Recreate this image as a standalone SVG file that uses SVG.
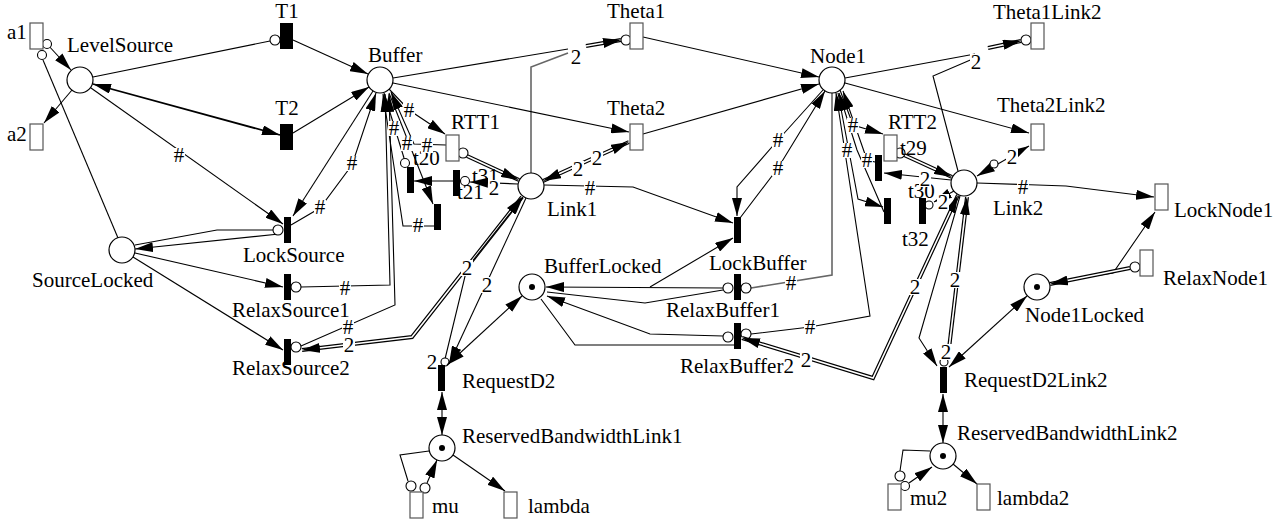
<svg xmlns="http://www.w3.org/2000/svg" width="1286" height="524" viewBox="0 0 1286 524" font-family="'Liberation Serif', 'Times New Roman', 'DejaVu Serif', serif" font-size="21">
<defs>
<marker id="ah" markerUnits="userSpaceOnUse" markerWidth="18" markerHeight="10" refX="18" refY="5" orient="auto-start-reverse" viewBox="0 0 18 10">
<path d="M0,0 L18,5 L0,10 Z" fill="#000"/>
</marker>
</defs>
<style>
.p{fill:#fff;stroke:#000;stroke-width:1.2}
.tok{fill:#000}
.tt{fill:#fff;stroke:#555;stroke-width:1.2}
.it{fill:#000}
.a{fill:none;stroke:#000;stroke-width:1.1}
.g{fill:none;stroke:#666;stroke-width:1.6}
.d{fill:none;stroke:#000;stroke-width:4}
.di{fill:none;stroke:#fff;stroke-width:1.6}
.n{fill:none;stroke:none}
.e{marker-end:url(#ah)}
.s{marker-start:url(#ah)}
.ic{fill:#fff;stroke:#000;stroke-width:1.1}
.lb rect{fill:#fff}
text{font-family:'Liberation Serif','Times New Roman','DejaVu Serif',serif;font-size:21px;fill:#000}
.m{text-anchor:middle}
</style>
<rect width="1286" height="524" fill="#fff"/>

<!-- arcs -->
<g id="connectors">
  <!-- source side -->
  <path class="a e" d="M47,44 L71,70"/>
  <circle class="ic" cx="47" cy="44" r="4.5"/>
  <path class="a" d="M118,238 L43,60"/>
  <circle class="ic" cx="42" cy="55" r="4.5"/>
  <path class="a e" d="M72,90 L44,123"/>
  <path class="a" d="M93,77 L270,41"/>
  <circle class="ic" cx="275" cy="40" r="5"/>
  <path class="a e s" style="stroke-width:1.8" d="M93,84 L280,135"/>
  <path class="a e" d="M91,88 L283,224"/>
  <path class="a e" d="M293,40 L368,74"/>
  <path class="a e" d="M293,133 L369,87"/>
  <path class="a e" d="M279,234 L135,249"/>
  <path class="a" d="M135,245 L217,230 L273,230"/>
  <circle class="ic" cx="278" cy="230" r="5"/>
  <path class="a e" d="M135,253 L283,287"/>
  <path class="a e" d="M133,257 L283,350"/>
  <path class="a e" d="M373,91 L293,216"/>
  <path class="a e" d="M291,225 L320,208 L352,165 L376,93"/>
  <path class="a e" d="M301,287 L390,285 L385,94"/>
  <circle class="ic" cx="296" cy="287" r="5"/>
  <path class="a e" d="M301,346 L395,305 L389,94"/>
  <circle class="ic" cx="296" cy="347" r="5"/>
  <path class="d" d="M302,350 L412,337 L522,197"/>
  <path class="di" d="M302,350 L412,337 L522,197"/>
  <path class="n e s" d="M302,350 L412,337 L522,197"/>

  <!-- buffer side -->
  <path class="a" d="M393,78 L568,49"/>
  <path class="g" d="M531,173 L531,67 L568,53"/>
  <path class="d" d="M586,46 L621,40"/>
  <path class="di" d="M586,46 L621,40"/>
  <path class="n e" d="M586,46 L621,40"/>
  <circle class="ic" cx="626" cy="40" r="5"/>
  <path class="a e" d="M393,83 L629,132"/>
  <path class="d" d="M543,181 L629,142"/>
  <path class="di" d="M543,181 L629,142"/>
  <path class="n e s" d="M543,181 L629,142"/>
  <path class="a e" d="M389,89 L409,110 L445,134"/>
  <path class="d" d="M467,156 L519,180"/>
  <path class="di" d="M467,156 L519,180"/>
  <path class="n e" d="M467,156 L519,180"/>
  <circle class="ic" cx="463" cy="153" r="5"/>
  <path class="a e" d="M643,37 L819,77"/>
  <path class="a e" d="M643,134 L819,84"/>
  <path class="a e" d="M544,185 L633,187 L733,223"/>
  <path class="a e" d="M723,288 L546,287"/>
  <path class="a e" d="M650,287 L733,238"/>
  <path class="a" d="M547,292 L645,303 L723,290"/>
  <circle class="ic" cx="728" cy="288" r="5"/>
  <path class="a e" d="M723,336 L650,334 L547,296"/>
  <path class="a" d="M541,299 L575,345 L734,345"/>
  <circle class="ic" cx="728" cy="337" r="5"/>

  <!-- link1 transitions -->
  <path class="a" d="M384,93 L404,158"/>
  <circle class="ic" cx="405" cy="163" r="4.5"/>
  <path class="a e" d="M389,93 L433,204"/>
  <path class="a e" d="M434,226 L403,226 L383,94"/>
  <path class="a e" d="M446,145 L414,144 L391,92"/>
  <path class="a e" d="M518,184 L470,182"/>
  <path class="a e" d="M453,181 L414,181"/>
  <circle class="ic" cx="465" cy="181" r="4.5"/>

  <!-- link1 to request -->
  <path class="a e" d="M526,198 L449,364"/>
  <path class="a e" d="M445,359 L467,268 L523,197"/>
  <circle class="ic" cx="445" cy="362" r="4"/>
  <path class="a e s" d="M522,296 L447,365"/>
  <path class="a e s" d="M442,392 L442,435"/>
  <path class="a e" d="M453,455 L505,491"/>
  <path class="a e" d="M427,483 L437,460"/>
  <circle class="ic" cx="425" cy="488" r="5"/>
  <path class="a" d="M429,451 L400,455 L408,481"/>
  <circle class="ic" cx="411" cy="486" r="5"/>

  <!-- node1 side -->
  <path class="a" d="M845,78 L975,54"/>
  <path class="a" d="M958,171 L933,76 L975,58"/>
  <path class="d" d="M988,48 L1021,41"/>
  <path class="di" d="M988,48 L1021,41"/>
  <path class="n e" d="M988,48 L1021,41"/>
  <circle class="ic" cx="1026" cy="40" r="5"/>
  <path class="a e" d="M845,83 L1029,133"/>
  <path class="a e s" d="M977,176 L1029,146"/>
  <circle class="ic" cx="994" cy="164" r="4"/>
  <path class="a e" d="M823,90 L778,140 L737,187 L737,216"/>
  <path class="a e" d="M740,218 L778,168 L825,91"/>
  <path class="g" d="M832,93 L832,275 L751,288"/>
  <circle class="ic" cx="746" cy="288" r="5"/>
  <path class="a e" d="M751,334 L810,327 L870,316 L836,93"/>
  <circle class="ic" cx="746" cy="334" r="5"/>
  <path class="a e" d="M840,90 L853,125 L883,134"/>
  <path class="d" d="M904,155 L952,177"/>
  <path class="di" d="M904,155 L952,177"/>
  <path class="n e" d="M904,155 L952,177"/>
  <circle class="ic" cx="900" cy="153" r="5"/>
  <path class="a e" d="M951,180 L884,173"/>
  <path class="a e" d="M954,191 L934,202"/>
  <circle class="ic" cx="929" cy="205" r="4"/>
  <path class="a e" d="M838,93 L858,199 L883,207"/>
  <path class="a e" d="M875,162 L867,160 L843,91"/>
  <path class="a e" d="M884,212 L857,150 L839,93"/>

  <!-- link2 side -->
  <path class="a e" d="M977,183 L1066,186 L1154,197"/>
  <path class="a e" d="M1049,283 L1113,273 L1155,212"/>
  <path class="d" d="M1130,268 L1050,284"/>
  <path class="di" d="M1130,268 L1050,284"/>
  <path class="n e" d="M1130,268 L1050,284"/>
  <circle class="ic" cx="1135" cy="267" r="5"/>
  <path class="a e s" d="M1027,296 L949,367"/>
  <path class="d" d="M967,197 L948,357"/>
  <path class="di" d="M967,197 L948,357"/>
  <path class="n s" d="M967,197 L948,357"/>
  <circle class="ic" cx="944" cy="362" r="4"/>
  <path class="a e" d="M960,196 L919,338 L937,366"/>
  <path class="d" d="M742,338 L873,378 L958,195"/>
  <path class="di" d="M742,338 L873,378 L958,195"/>
  <path class="n e s" d="M742,338 L873,378 L958,195"/>
  <path class="a e s" d="M943,394 L943,443"/>
  <path class="a e" d="M953,464 L977,484"/>
  <path class="a e" d="M909,483 L932,467"/>
  <circle class="ic" cx="905" cy="486" r="4.5"/>
  <path class="a" d="M930,451 L903,450 L900,471"/>
  <circle class="ic" cx="900" cy="476" r="5"/>
</g>

<!-- places -->
<g id="LevelSource"><circle class="p" cx="80" cy="80" r="13"/><text x="67" y="52">LevelSource</text></g>
<g id="Buffer"><circle class="p" cx="380" cy="80" r="13"/><text x="368" y="62">Buffer</text></g>
<g id="Node1"><circle class="p" cx="832" cy="80" r="13"/><text x="810" y="63">Node1</text></g>
<g id="Link1"><circle class="p" cx="531" cy="186" r="13"/><text x="547" y="216">Link1</text></g>
<g id="Link2"><circle class="p" cx="964" cy="183" r="13"/><text x="993" y="215">Link2</text></g>
<g id="SourceLocked"><circle class="p" cx="122" cy="250" r="13"/><text x="32" y="287">SourceLocked</text></g>
<g id="BufferLocked"><circle class="p" cx="532" cy="287" r="13"/><circle class="tok" cx="532" cy="287" r="3"/><text x="544" y="273">BufferLocked</text></g>
<g id="Node1Locked"><circle class="p" cx="1037" cy="287" r="13"/><circle class="tok" cx="1037" cy="287" r="3"/><text x="1025" y="322">Node1Locked</text></g>
<g id="ReservedBandwidthLink1"><circle class="p" cx="442" cy="448" r="13"/><circle class="tok" cx="442" cy="448" r="3"/><text x="462" y="443">ReservedBandwidthLink1</text></g>
<g id="ReservedBandwidthLink2"><circle class="p" cx="943" cy="456" r="13"/><circle class="tok" cx="943" cy="456" r="3"/><text x="957" y="440">ReservedBandwidthLink2</text></g>

<!-- timed transitions -->
<g id="a1"><rect class="tt" x="30" y="23" width="13" height="26"/><text x="7" y="39">a1</text></g>
<g id="a2"><rect class="tt" x="30" y="124" width="13" height="26"/><text x="7" y="141">a2</text></g>
<g id="Theta1"><rect class="tt" x="630" y="23" width="13" height="26"/><text x="607" y="18">Theta1</text></g>
<g id="Theta2"><rect class="tt" x="630" y="124" width="13" height="26"/><text x="607" y="115">Theta2</text></g>
<g id="RTT1"><rect class="tt" x="446" y="135" width="13" height="26"/><text x="451" y="129">RTT1</text></g>
<g id="Theta1Link2"><rect class="tt" x="1031" y="23" width="13" height="26"/><text x="993" y="19">Theta1Link2</text></g>
<g id="Theta2Link2"><rect class="tt" x="1031" y="124" width="13" height="26"/><text x="997" y="112">Theta2Link2</text></g>
<g id="RTT2"><rect class="tt" x="884" y="135" width="13" height="26"/><text x="888" y="129">RTT2</text></g>
<g id="LockNode1"><rect class="tt" x="1155" y="184" width="13" height="26"/><text x="1174" y="217">LockNode1</text></g>
<g id="RelaxNode1"><rect class="tt" x="1140" y="250" width="13" height="26"/><text x="1163" y="285">RelaxNode1</text></g>
<g id="mu"><rect class="tt" x="410" y="492" width="13" height="26"/><text x="432" y="513">mu</text></g>
<g id="lambda"><rect class="tt" x="504" y="492" width="13" height="26"/><text x="528" y="513">lambda</text></g>
<g id="mu2"><rect class="tt" x="888" y="484" width="13" height="26"/><text x="910" y="505">mu2</text></g>
<g id="lambda2"><rect class="tt" x="977" y="484" width="13" height="26"/><text x="997" y="505">lambda2</text></g>

<!-- immediate transitions -->
<g id="T1"><rect class="it" x="280" y="23" width="13" height="26"/><text class="m" x="287" y="18">T1</text></g>
<g id="T2"><rect class="it" x="280" y="124" width="13" height="26"/><text class="m" x="287" y="115">T2</text></g>
<g id="LockSource"><rect class="it" x="284" y="217" width="7" height="26"/><text x="243" y="262">LockSource</text></g>
<g id="RelaxSource1"><rect class="it" x="284" y="274" width="7" height="26"/><text x="232" y="317">RelaxSource1</text></g>
<g id="RelaxSource2"><rect class="it" x="284" y="339" width="7" height="26"/><text x="232" y="375">RelaxSource2</text></g>
<g id="t20"><rect class="it" x="407" y="167" width="7" height="26"/><text x="413" y="165">t20</text></g>
<g id="t21"><rect class="it" x="453" y="170" width="7" height="26"/><text x="472" y="183">t31</text><text x="457" y="199">t21</text></g>
<g id="t22"><rect class="it" x="434" y="204" width="7" height="26"/></g>
<g id="LockBuffer"><rect class="it" x="734" y="217" width="7" height="26"/><text x="709" y="270">LockBuffer</text></g>
<g id="RelaxBuffer1"><rect class="it" x="734" y="274" width="7" height="26"/><text x="666" y="317">RelaxBuffer1</text></g>
<g id="RelaxBuffer2"><rect class="it" x="734" y="323" width="7" height="26"/><text x="680" y="373">RelaxBuffer2</text></g>
<g id="t29"><rect class="it" x="875" y="155" width="7" height="26"/><text x="900" y="155">t29</text></g>
<g id="t31b"><rect class="it" x="884" y="198" width="7" height="26"/></g>
<g id="t30"><rect class="it" x="919" y="198" width="7" height="26"/><text x="908" y="198">t30</text><text x="902" y="246">t32</text></g>
<g id="RequestD2"><rect class="it" x="438" y="365" width="7" height="26"/><text x="462" y="388">RequestD2</text></g>
<g id="RequestD2Link2"><rect class="it" x="940" y="367" width="7" height="26"/><text x="964" y="387">RequestD2Link2</text></g>

<!-- arc inscriptions -->
<g id="arc-labels" class="lb">
  <rect x="173" y="148" width="12" height="15"/><text class="m" x="179" y="162">#</text>
  <rect x="346" y="156" width="12" height="15"/><text class="m" x="352" y="170">#</text>
  <rect x="314" y="200" width="12" height="15"/><text class="m" x="320" y="214">#</text>
  <rect x="339" y="281" width="12" height="15"/><text class="m" x="345" y="295">#</text>
  <rect x="342" y="320" width="12" height="15"/><text class="m" x="348" y="334">#</text>
  <rect x="343" y="337" width="12" height="16"/><text class="m" x="349" y="352">2</text>
  <rect x="570" y="49" width="12" height="16"/><text class="m" x="576" y="64">2</text>
  <rect x="572" y="161" width="12" height="16"/><text class="m" x="578" y="176">2</text>
  <rect x="591" y="150" width="12" height="16"/><text class="m" x="597" y="165">2</text>
  <rect x="403" y="103" width="12" height="15"/><text class="m" x="409" y="117">#</text>
  <rect x="388" y="121" width="12" height="15"/><text class="m" x="394" y="135">#</text>
  <rect x="401" y="136" width="12" height="15"/><text class="m" x="407" y="150">#</text>
  <rect x="421" y="138" width="12" height="15"/><text class="m" x="427" y="152">#</text>
  <rect x="412" y="218" width="12" height="15"/><text class="m" x="418" y="232">#</text>
  <rect x="488" y="180" width="12" height="16"/><text class="m" x="494" y="195">2</text>
  <rect x="584" y="181" width="12" height="15"/><text class="m" x="590" y="195">#</text>
  <rect x="461" y="260" width="12" height="16"/><text class="m" x="467" y="275">2</text>
  <rect x="481" y="277" width="12" height="16"/><text class="m" x="487" y="292">2</text>
  <rect x="426" y="354" width="12" height="16"/><text class="m" x="432" y="369">2</text>
  <rect x="970" y="54" width="12" height="16"/><text class="m" x="976" y="69">2</text>
  <rect x="1006" y="149" width="12" height="16"/><text class="m" x="1012" y="164">2</text>
  <rect x="772" y="133" width="12" height="15"/><text class="m" x="778" y="147">#</text>
  <rect x="772" y="161" width="12" height="15"/><text class="m" x="778" y="175">#</text>
  <rect x="785" y="276" width="12" height="15"/><text class="m" x="791" y="290">#</text>
  <rect x="804" y="320" width="12" height="15"/><text class="m" x="810" y="334">#</text>
  <rect x="847" y="118" width="12" height="15"/><text class="m" x="853" y="132">#</text>
  <rect x="841" y="143" width="12" height="15"/><text class="m" x="847" y="157">#</text>
  <rect x="861" y="153" width="12" height="15"/><text class="m" x="867" y="167">#</text>
  <rect x="919" y="171" width="12" height="16"/><text class="m" x="925" y="186">2</text>
  <rect x="937" y="194" width="12" height="16"/><text class="m" x="943" y="209">2</text>
  <rect x="800" y="352" width="12" height="16"/><text class="m" x="806" y="367">2</text>
  <rect x="909" y="279" width="12" height="16"/><text class="m" x="915" y="294">2</text>
  <rect x="949" y="272" width="12" height="16"/><text class="m" x="955" y="287">2</text>
  <rect x="940" y="344" width="12" height="16"/><text class="m" x="946" y="359">2</text>
  <rect x="1017" y="180" width="12" height="15"/><text class="m" x="1023" y="194">#</text>
</g>
</svg>
